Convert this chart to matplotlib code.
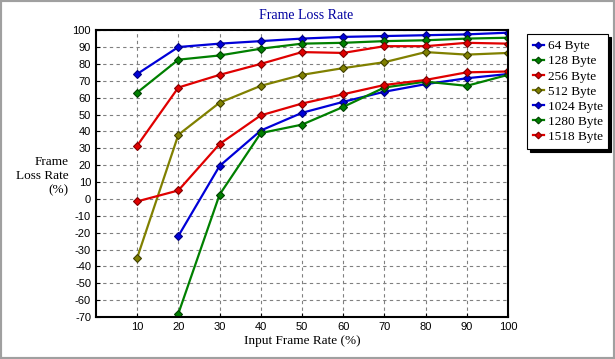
import matplotlib.pyplot as plt
from matplotlib.patches import Rectangle

plt.rcParams['axes.unicode_minus'] = False

rates = [10, 20, 30, 40, 50, 60, 70, 80, 90, 100]
labels = ["64 Byte", "128 Byte", "256 Byte", "512 Byte", "1024 Byte", "1280 Byte", "1518 Byte"]
loss_64 = [74, 90, 92, 93.5, 95, 96, 96.5, 97, 97.5, 98.5]
loss_128 = [63, 82.5, 85, 89, 92, 92.5, 93.5, 94, 95, 95.5]
loss_256 = [31.5, 66, 73.5, 80, 87, 86.5, 90.5, 90.5, 92.5, 92]
loss_512 = [-35, 38, 57, 67, 73.5, 77.5, 81, 87, 85.5, 86.5]
loss_1024 = [None, -22, 19.5, 40.5, 51, 57.5, 63.5, 68, 71.5, 74]
loss_1280 = [None, -68, 2.5, 39, 44, 54.5, 66, 69.5, 67, 73.5]
loss_1518 = [-1.5, 5, 32.5, 49.5, 56.5, 62, 67.5, 70.5, 75, 75.5]
series = [loss_64, loss_128, loss_256, loss_512, loss_1024, loss_1280, loss_1518]
colors = ["#0000d8", "#008000", "#e00000", "#808000", "#0000d8", "#008000", "#e00000"]
edges = ["#000080", "#004000", "#800000", "#404000", "#000080", "#004000", "#800000"]

fig = plt.figure(figsize=(6.15, 3.59), dpi=100)
fig.patches.append(Rectangle((0, 0), 1, 1, transform=fig.transFigure, fill=False,
                             edgecolor="#a0a0a0", linewidth=3))
ax = fig.add_axes([0.156, 0.117, 0.670, 0.799])

for ys, lab, c, ec in zip(series, labels, colors, edges):
    xs = [x for x, y in zip(rates, ys) if y is not None]
    yv = [y for y in ys if y is not None]
    ax.plot(xs, yv, color=c, lw=1.6, marker="D", ms=3.8, mfc=c, mec=ec, mew=0.8, label=lab)

ax.set_xlim(0, 100)
ax.set_ylim(-70, 100)
ax.set_xticks(rates)
ax.set_yticks(range(-70, 101, 10))
ax.grid(True, color="#808080", linestyle=(0, (3, 3)), linewidth=0.8)
for s in ax.spines.values():
    s.set_linewidth(1.5)
ax.tick_params(labelsize=8, length=3, direction="in")
for t in ax.get_xticklabels() + ax.get_yticklabels():
    t.set_family("Liberation Sans")

fig.text(0.497, 0.958, "Frame Loss Rate", color="#0000a0", family="Liberation Serif",
         fontsize=10, ha="center", va="center")
ax.set_xlabel("Input Frame Rate (%)", family="Liberation Serif", fontsize=9.5, labelpad=2)
fig.text(0.112, 0.51, "Frame\nLoss Rate\n(%)", family="Liberation Serif", fontsize=9.5,
         ha="right", va="center", linespacing=1.25)

leg = fig.legend(loc="upper left", bbox_to_anchor=(0.857, 0.905), fancybox=False,
                 prop={"family": "Liberation Serif", "size": 9.5}, handlelength=0.8,
                 handletextpad=0.3, borderpad=0.45, labelspacing=0.22, markerscale=0.9,
                 borderaxespad=0, shadow={"color": "black", "alpha": 1})
leg.get_frame().set_edgecolor("black")
leg.get_frame().set_linewidth(0.8)

fig.savefig("out.png")
